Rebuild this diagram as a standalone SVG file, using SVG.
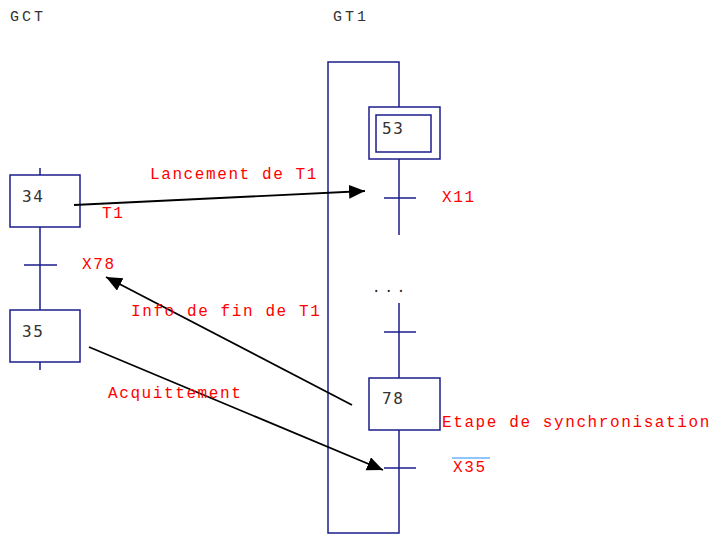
<svg xmlns="http://www.w3.org/2000/svg" width="710" height="535" viewBox="0 0 710 535">
<style>
.ln{stroke:#1c1c8c;stroke-width:1.5;fill:none}
.box{stroke:#1c1c8c;stroke-width:1.5;fill:#fff}
.num{font-family:"DejaVu Sans Mono",monospace;font-size:16px;letter-spacing:1.5px;fill:#333}
.hdr{font-family:"Liberation Mono",monospace;font-size:15px;letter-spacing:3px;fill:#333}
.lbl{font-family:"Liberation Mono",monospace;font-size:16px;letter-spacing:1.6px;fill:#f00}
.arr{stroke:#000;stroke-width:1.8;fill:none;marker-end:url(#ah)}
</style>
<defs>
<marker id="ah" markerUnits="userSpaceOnUse" markerWidth="17" markerHeight="15" refX="16" refY="7" orient="auto">
<path d="M0,0 L16,7 L0,14 z" fill="#000"/>
</marker>
</defs>
<rect width="710" height="535" fill="#fff"/>
<text class="hdr" x="10" y="21">GCT</text>
<text class="hdr" x="333" y="21">GT1</text>
<g id="gct-links">
<path class="ln" d="M40,168 V175 M40,227 V310 M40,362 V370 M24,265 H57"/>
</g>
<g id="step34">
<rect class="box" x="10" y="175" width="70" height="52"/>
<text class="num" x="22" y="202">34</text>
</g>
<g id="step35">
<rect class="box" x="10" y="310" width="70" height="52"/>
<text class="num" x="22" y="337">35</text>
</g>
<g id="gt1-loop">
<path class="ln" d="M399,107 V62 H328 V533 H399 V430 M399,159 V235 M399,303 V378 M384,198 H416 M384,332 H416 M384,468 H416"/>
<text x="372" y="292" font-family="DejaVu Sans Mono,monospace" font-size="14" fill="#222" letter-spacing="4">...</text>
</g>
<g id="step53">
<rect class="box" x="369" y="107" width="71" height="52"/>
<rect class="box" x="376" y="115" width="55" height="37"/>
<text class="num" x="382" y="134">53</text>
</g>
<g id="step78">
<rect class="box" x="369" y="378" width="71" height="52"/>
<text class="num" x="382" y="404">78</text>
</g>
<g id="connectors">
<line class="arr" x1="74" y1="205" x2="365" y2="191"/>
<line class="arr" x1="352" y1="405" x2="106" y2="277"/>
<line class="arr" x1="89" y1="347" x2="383" y2="470"/>
</g>
<g id="labels">
<text class="lbl" x="150" y="179">Lancement de T1</text>
<text class="lbl" x="102" y="218">T1</text>
<text class="lbl" x="82" y="269">X78</text>
<text class="lbl" x="442" y="202">X11</text>
<text class="lbl" x="131" y="316">Info de fin de T1</text>
<text class="lbl" x="108" y="398">Acquittement</text>
<text class="lbl" x="442" y="427">Etape de synchronisation</text>
<text class="lbl" x="453" y="472">X35</text>
<line x1="452" y1="458" x2="490" y2="458" stroke="#1e90ff" stroke-width="1.2"/>
</g>
</svg>
